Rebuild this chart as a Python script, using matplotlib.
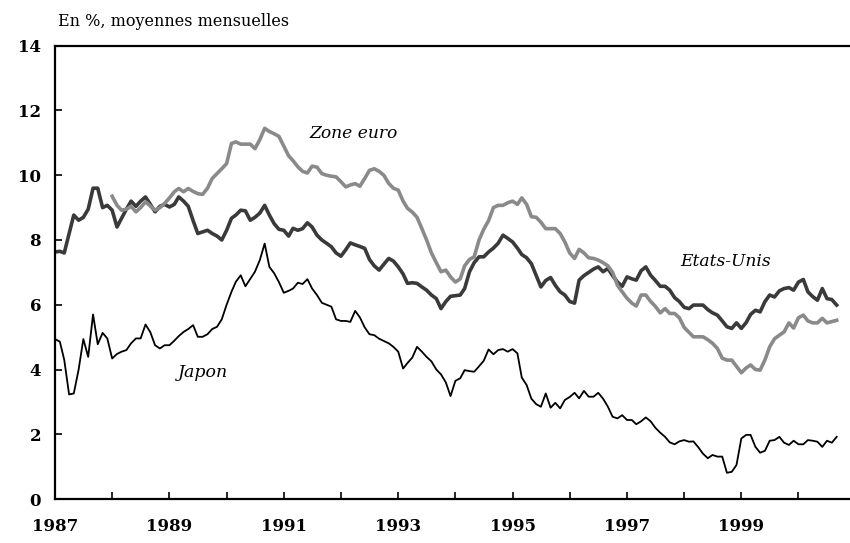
import matplotlib
matplotlib.use("Agg")
import matplotlib.pyplot as plt
import matplotlib.dates as mdates
import pandas as pd

# taux longs, moyennes mensuelles (janv. 1987 - sept. 2000)
etats_unis = [
    7.63, 7.65, 7.60, 8.20, 8.77, 8.61, 8.70, 8.95, 9.60, 9.60, 9.00, 9.07,
    8.92, 8.40, 8.67, 8.95, 9.20, 9.04, 9.20, 9.33, 9.10, 8.87, 9.04, 9.10,
    9.02, 9.10, 9.33, 9.20, 9.04, 8.60, 8.20, 8.25, 8.30, 8.20, 8.12, 8.00,
    8.30, 8.67, 8.77, 8.92, 8.90, 8.61, 8.70, 8.83, 9.07, 8.77, 8.50, 8.33,
    8.30, 8.12, 8.36, 8.30, 8.35, 8.53, 8.40, 8.15, 8.00, 7.90, 7.79, 7.60,
    7.50, 7.70, 7.91, 7.85, 7.80, 7.74, 7.40, 7.20, 7.07, 7.25, 7.43, 7.35,
    7.17, 6.95, 6.66, 6.68, 6.66, 6.55, 6.45, 6.30, 6.19, 5.88, 6.10, 6.26,
    6.28, 6.30, 6.50, 7.02, 7.30, 7.48, 7.48, 7.63, 7.75, 7.90, 8.15, 8.05,
    7.94, 7.75, 7.55, 7.45, 7.27, 6.90, 6.55, 6.75, 6.84, 6.60, 6.40, 6.30,
    6.10, 6.05, 6.76, 6.90, 7.00, 7.10, 7.17, 7.02, 7.12, 6.90, 6.70, 6.57,
    6.86, 6.80, 6.76, 7.05, 7.17, 6.91, 6.75, 6.57, 6.57, 6.45, 6.22, 6.10,
    5.92, 5.88, 5.99, 5.99, 5.99, 5.85, 5.75, 5.68, 5.50, 5.32, 5.27, 5.44,
    5.27, 5.45, 5.70, 5.83, 5.78, 6.10, 6.30, 6.24, 6.43, 6.50, 6.53, 6.45,
    6.70, 6.78, 6.40, 6.25, 6.14, 6.50, 6.19, 6.16, 5.99,
]

# zone euro : a partir de janv. 1988
zone_euro = [
    9.35, 9.07, 8.92, 8.95, 9.04, 8.87, 9.00, 9.18, 9.05, 8.92, 9.00, 9.13,
    9.30, 9.49, 9.59, 9.49, 9.59, 9.50, 9.43, 9.41, 9.60, 9.90, 10.05, 10.20,
    10.36, 10.98, 11.03, 10.96, 10.96, 10.96, 10.82, 11.10, 11.45, 11.35, 11.28, 11.20,
    10.90, 10.60, 10.45, 10.26, 10.12, 10.07, 10.28, 10.25, 10.05, 10.00, 9.97, 9.95,
    9.80, 9.64, 9.70, 9.74, 9.66, 9.90, 10.15, 10.20, 10.12, 10.00, 9.75, 9.60,
    9.54, 9.20, 8.98, 8.86, 8.70, 8.35, 8.00, 7.60, 7.30, 7.02, 7.07, 6.86,
    6.70, 6.80, 7.20, 7.40, 7.48, 8.00, 8.33, 8.60, 9.00, 9.07, 9.07, 9.15,
    9.20, 9.10, 9.30, 9.10, 8.72, 8.70, 8.55, 8.35, 8.35, 8.35, 8.20, 7.94,
    7.60, 7.43, 7.71, 7.60, 7.45, 7.43, 7.38, 7.30, 7.20, 7.00, 6.60, 6.40,
    6.20, 6.05, 5.96, 6.30, 6.30, 6.10, 5.95, 5.75, 5.88, 5.73, 5.73, 5.60,
    5.30, 5.15, 5.01, 5.01, 5.01, 4.92, 4.81, 4.65, 4.35, 4.29, 4.29, 4.10,
    3.90, 4.05, 4.14, 4.00, 3.98, 4.30, 4.70, 4.95, 5.06, 5.16, 5.44, 5.28,
    5.60, 5.68, 5.50, 5.44, 5.44, 5.58, 5.44, 5.48, 5.52,
]

japon = [
    4.94, 4.86, 4.30, 3.23, 3.26, 4.00, 4.94, 4.39, 5.70, 4.78, 5.13, 4.96,
    4.34, 4.48, 4.55, 4.60, 4.81, 4.96, 4.96, 5.39, 5.15, 4.75, 4.65, 4.75,
    4.75, 4.89, 5.03, 5.16, 5.25, 5.37, 5.01, 5.01, 5.09, 5.25, 5.32, 5.55,
    6.00, 6.40, 6.71, 6.91, 6.57, 6.80, 7.02, 7.38, 7.89, 7.17, 6.97, 6.70,
    6.37, 6.43, 6.50, 6.68, 6.64, 6.79, 6.50, 6.30, 6.06, 6.00, 5.94, 5.55,
    5.50, 5.50, 5.47, 5.81, 5.61, 5.30, 5.09, 5.06, 4.95, 4.88, 4.81, 4.70,
    4.55, 4.03, 4.20, 4.37, 4.70, 4.55, 4.39, 4.25, 4.00, 3.85, 3.60, 3.18,
    3.65, 3.73, 3.98, 3.95, 3.93, 4.10, 4.27, 4.62, 4.47, 4.60, 4.63, 4.55,
    4.63, 4.50, 3.75, 3.52, 3.10, 2.93, 2.85, 3.26, 2.82, 2.97, 2.80, 3.06,
    3.15, 3.28, 3.11, 3.34, 3.16, 3.16, 3.28, 3.10, 2.85, 2.54, 2.49, 2.59,
    2.44, 2.44, 2.31, 2.40, 2.52, 2.40, 2.20, 2.05, 1.92, 1.75, 1.69, 1.78,
    1.82, 1.77, 1.78, 1.60, 1.40, 1.26, 1.36, 1.31, 1.31, 0.81, 0.84, 1.05,
    1.87, 1.98, 1.98, 1.61, 1.43, 1.49, 1.80, 1.82, 1.92, 1.74, 1.67, 1.80,
    1.69, 1.69, 1.82, 1.80, 1.77, 1.61, 1.80, 1.74, 1.92,
]

dates_us = pd.date_range("1987-01-01", periods=len(etats_unis), freq="MS")
dates_jp = pd.date_range("1987-01-01", periods=len(japon), freq="MS")
dates_eu = pd.date_range("1988-01-01", periods=len(zone_euro), freq="MS")

plt.rcParams["font.family"] = "DejaVu Serif"

fig = plt.figure(figsize=(8.5, 5.43), dpi=100)
ax = fig.add_axes([0.0647, 0.081, 0.9353, 0.8348])

ax.plot(dates_us, etats_unis, color="#3a3a3a", linewidth=2.6, solid_joinstyle="round")
ax.plot(dates_eu, zone_euro, color="#8a8a8a", linewidth=2.6, solid_joinstyle="round")
ax.plot(dates_jp, japon, color="black", linewidth=1.3)

ax.set_ylim(0, 14)
ax.set_yticks(range(0, 15, 2))
ax.set_xlim(pd.Timestamp("1987-01-01"), pd.Timestamp("2000-11-25"))
ax.xaxis.set_major_locator(mdates.YearLocator(1))
ax.xaxis.set_major_formatter(
    plt.FuncFormatter(lambda v, p: mdates.num2date(v).strftime("%Y")
                      if mdates.num2date(v).year % 2 == 1 else ""))

for s in ["left", "bottom", "top"]:
    ax.spines[s].set_linewidth(1.6)
ax.spines["right"].set_visible(False)
ax.tick_params(axis="both", direction="in", length=5, width=1.2, labelsize=12)
ax.tick_params(axis="x", pad=14)
ax.tick_params(axis="y", pad=10)
for lab in ax.get_xticklabels() + ax.get_yticklabels():
    lab.set_fontweight("bold")

ax.text(pd.Timestamp("1992-03-20"), 11.28, "Zone euro", style="italic",
        fontsize=12.3, ha="center", va="center")
ax.text(pd.Timestamp("1998-09-20"), 7.35, "Etats-Unis", style="italic",
        fontsize=12.3, ha="center", va="center")
ax.text(pd.Timestamp("1989-08-01"), 3.92, "Japon", style="italic",
        fontsize=12.5, ha="center", va="center")

fig.text(58 / 850, 1 - 22 / 543, "En %, moyennes mensuelles", fontsize=11.5,
         ha="left", va="center")

fig.savefig("out.png", dpi=100)
